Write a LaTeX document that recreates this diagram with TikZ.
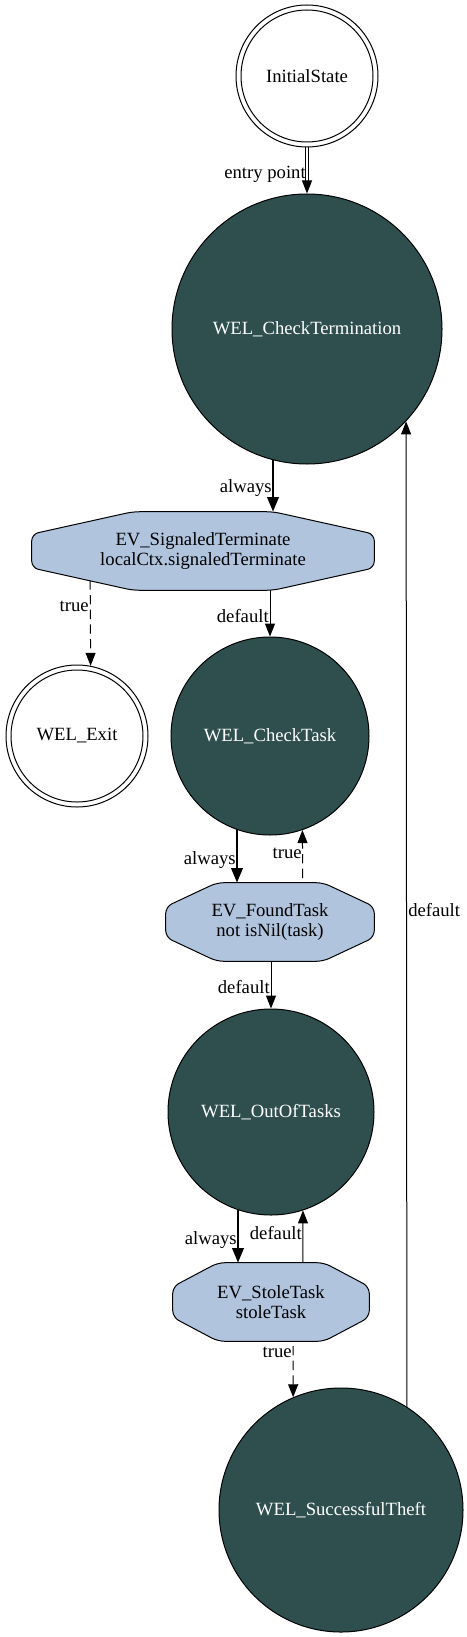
\documentclass[tikz,border=0pt]{standalone}
\usepackage{fontspec}
\setmainfont{Liberation Serif}
\newfontfamily\timesfont{Liberation Serif}
\usetikzlibrary{arrows.meta,calc}
\pgfdeclarelayer{edges}
\pgfdeclarelayer{shapes}
\pgfsetlayers{edges,shapes,main}
\definecolor{dslate}{HTML}{2F4F4F}
\definecolor{lsteel}{HTML}{B0C4DE}
\tikzset{
  every node/.style={font=\timesfont\fontsize{14}{15}\selectfont},
  darkstate/.style={circle, draw, line width=0.75pt, fill=dslate, text=white, inner sep=0pt},
  finalstate/.style={circle, draw, line width=0.75pt, fill=white, inner sep=0pt, minimum size=106.5pt},
  evbox/.style={rectangle, inner sep=0pt, minimum height=58.5pt, align=center},
  lbl/.style={inner sep=0pt, anchor=east, text=black},
  edgeline/.style={line width=0.75pt, -{Triangle[length=9.75pt,width=7.5pt]}},
  thickedge/.style={line width=2pt, -{Triangle[length=11pt,width=8.5pt]}},
  dashedge/.style={edgeline, dash pattern=on 7pt off 4pt},
  octfill/.style={draw, line width=0.75pt, fill=lsteel, rounded corners=5pt},
}
\newcommand\octshape[3]{%
  \begin{pgfonlayer}{shapes}
  \path[octfill] ($(#1.north)!#2!(#1.north west)$) -- ($(#1.north)!#2!(#1.north east)$)
    -- ($(#1.east)!#3!(#1.north east)$) -- ($(#1.east)!#3!(#1.south east)$)
    -- ($(#1.south)!#2!(#1.south east)$) -- ($(#1.south)!#2!(#1.south west)$)
    -- ($(#1.west)!#3!(#1.south west)$) -- ($(#1.west)!#3!(#1.north west)$) -- cycle;
  \end{pgfonlayer}}
\begin{document}
\begin{tikzpicture}[x=0.75pt,y=-0.75pt]
\useasboundingbox (0,0) rectangle (467,1637);
% states
\node[finalstate] (init) at (307,76) {InitialState};
\draw[line width=0.75pt] (init.center) circle[radius=49.5pt];
\node[darkstate, minimum size=202.5pt] (ctrm) at (307,329) {WEL\_CheckTermination};
\node[evbox, minimum width=256.5pt] (ev1) at (203,551) {EV\_SignaledTerminate\\localCtx.signaledTerminate};
\octshape{ev1}{0.41}{0.43}
\node[finalstate] (exit) at (77,736) {WEL\_Exit};
\draw[line width=0.75pt] (exit.center) circle[radius=49.5pt];
\node[darkstate, minimum size=148.5pt] (ctask) at (270,736) {WEL\_CheckTask};
\node[evbox, minimum width=156pt] (ev2) at (270,922) {EV\_FoundTask\\not isNil(task)};
\octshape{ev2}{0.51}{0.39}
\node[darkstate, minimum size=154.5pt] (oot) at (271,1112) {WEL\_OutOfTasks};
\node[evbox, minimum width=147pt] (ev3) at (271,1302) {EV\_StoleTask\\stoleTask};
\octshape{ev3}{0.54}{0.39}
\node[darkstate, minimum size=183pt] (theft) at (341,1510) {WEL\_SuccessfulTheft};
% connectors
\begin{pgfonlayer}{edges}
\coordinate (ea) at ($(ctrm.north)+(0,-12)$);
\draw[line width=0.6pt] ($(init.center)+(-1.6,0)$) -- ($(ea)+(-1.6,0)$);
\draw[line width=0.6pt] ($(init.center)+(1.6,0)$) -- ($(ea)+(1.6,0)$);
\draw[edgeline] (ea) -- (ctrm.north);
\draw[thickedge] (273,0 |- ctrm.center) -- (273,0 |- ev1.north);
\draw[dashedge] (90,0 |- ev1.center) -- (exit.79.45);
\draw[edgeline] (ctask.north |- ev1.center) -- (ctask.north);
\draw[thickedge] (237,0 |- ctask.center) -- (237,0 |- ev2.north);
\draw[dashedge] (303,0 |- ev2.center) -- (ctask.289.47);
\draw[edgeline] (oot.north |- ev2.center) -- (oot.north);
\draw[thickedge] (238,0 |- oot.center) -- (238,0 |- ev3.north);
\draw[edgeline] (303,0 |- ev3.center) -- (oot.288.1);
\draw[dashedge] (293,0 |- ev3.center) -- (theft.113.17);
\draw[edgeline] (407,0 |- theft.center) -- (ctrm.317.8);
\end{pgfonlayer}
% labels
\node[lbl] (l1) at (306,174) {entry point};
\node[lbl] (l2) at (272,488) {always};
\node[lbl] (l3) at (89,606) {true};
\node[lbl] (l4) at (269,616) {default};
\node[lbl] (l5) at (236,860) {always};
\node[lbl] (l6) at (302,853) {true};
\node[lbl] (l7) at (270,987) {default};
\node[lbl] (l8) at (237,1240) {always};
\node[lbl] (l9) at (302,1233) {default};
\node[lbl] (l10) at (292,1352) {true};
\node[lbl, anchor=west] (l11) at (408,910) {default};
\end{tikzpicture}
\end{document}
